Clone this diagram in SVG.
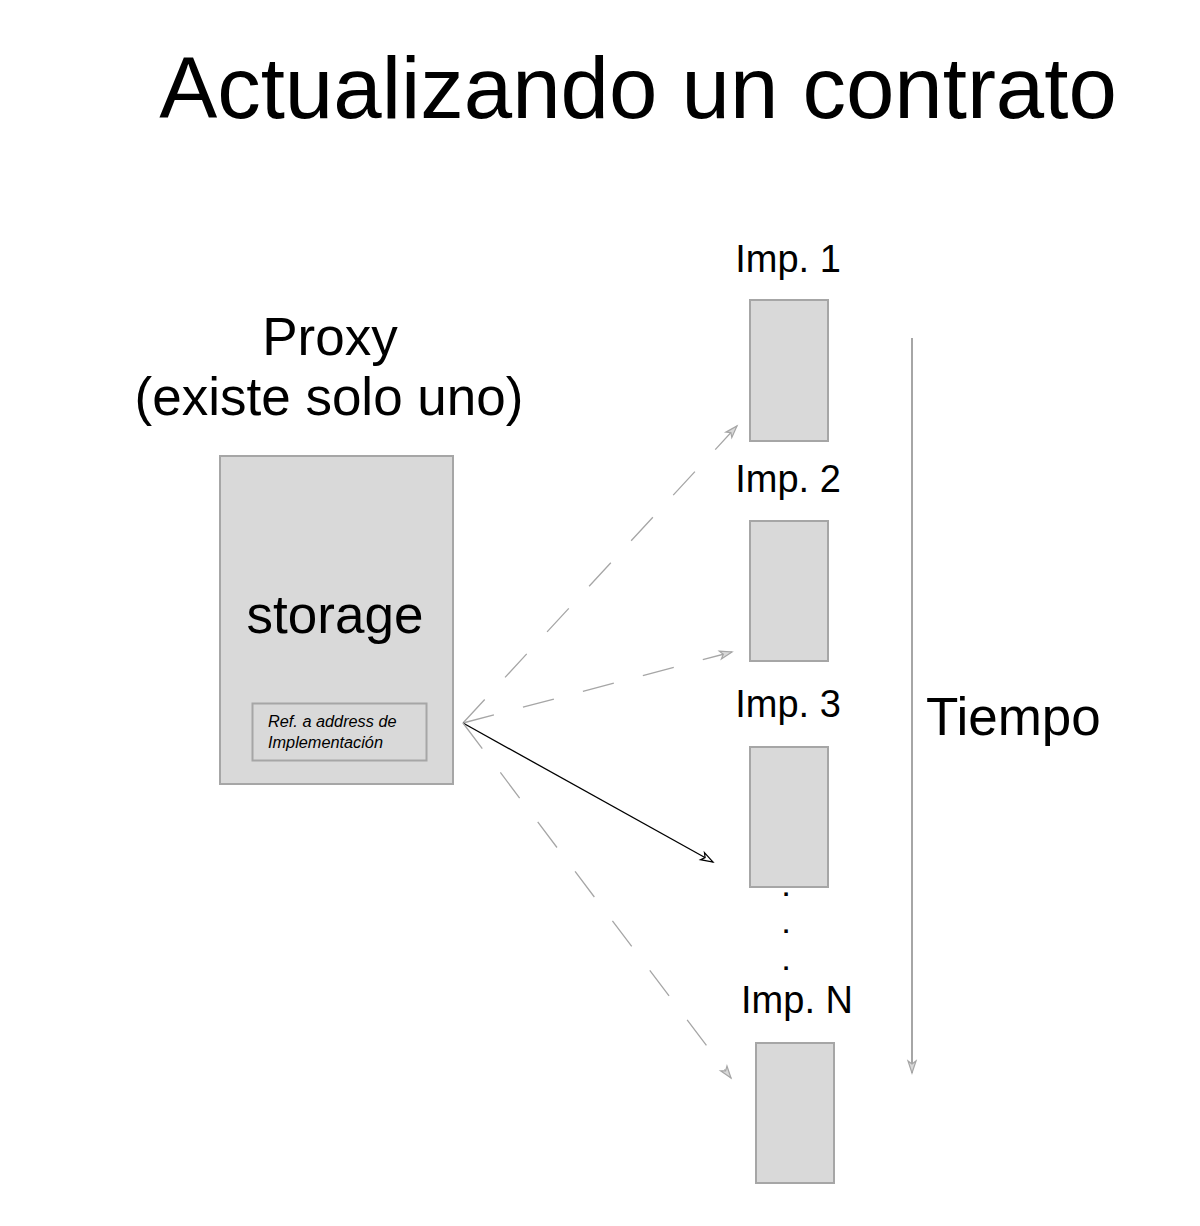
<svg xmlns="http://www.w3.org/2000/svg" width="1200" height="1226" viewBox="0 0 1200 1226">
<style>
text{font-family:"Liberation Sans",Arial,sans-serif;fill:#000}
.box{fill:#d9d9d9;stroke:#a6a6a6;stroke-width:2}
.dash{stroke:#a6a6a6;stroke-width:1.3;fill:none;stroke-dasharray:32 30}
.solid{stroke:#000;stroke-width:1.3;fill:none}
.lbl{font-size:38px;text-anchor:middle}
.dot{font-size:24px;font-weight:bold;text-anchor:middle}
</style>
<defs>
<marker id="ag" markerUnits="userSpaceOnUse" markerWidth="16" markerHeight="12" refX="13" refY="5" orient="auto" overflow="visible">
<path d="M1,1 L13,5 L1,9 L4,5 Z" fill="#d9d9d9" stroke="#a6a6a6" stroke-width="1.2"/>
</marker>
<marker id="ab" markerUnits="userSpaceOnUse" markerWidth="16" markerHeight="12" refX="13" refY="5" orient="auto" overflow="visible">
<path d="M1,1 L13,5 L1,9 L4,5 Z" fill="#fff" stroke="#000" stroke-width="1.2"/>
</marker>
</defs>
<rect width="1200" height="1226" fill="#fff"/>
<text x="638" y="118" font-size="87" text-anchor="middle">Actualizando un contrato</text>
<g id="proxy">
<text x="330" y="355" font-size="53" text-anchor="middle">Proxy</text>
<text x="329" y="415" font-size="53" text-anchor="middle">(existe solo uno)</text>
<rect class="box" x="220" y="456" width="233" height="328"/>
<text x="335" y="633" font-size="53" text-anchor="middle">storage</text>
</g>
<g id="ref">
<rect class="box" x="252.5" y="703.5" width="174" height="57" stroke-width="1.5"/>
<text x="268" y="727" font-size="16.3" font-style="italic">Ref. a address de</text>
<text x="268" y="748" font-size="16.3" font-style="italic">Implementación</text>
</g>
<g id="imp1">
<text class="lbl" x="788" y="272">Imp. 1</text>
<rect class="box" x="750" y="300" width="78" height="141"/>
</g>
<g id="imp2">
<text class="lbl" x="788" y="492">Imp. 2</text>
<rect class="box" x="750" y="521" width="78" height="140"/>
</g>
<g id="imp3">
<text class="lbl" x="788" y="717">Imp. 3</text>
<rect class="box" x="750" y="747" width="78" height="140"/>
</g>
<g id="dots">
<text class="dot" x="786" y="896">.</text>
<text class="dot" x="786" y="933">.</text>
<text class="dot" x="786" y="970">.</text>
</g>
<g id="impN">
<text class="lbl" x="797" y="1013">Imp. N</text>
<rect class="box" x="756" y="1043" width="78" height="140"/>
</g>
<g id="tiempo">
<text x="926" y="735" font-size="53">Tiempo</text>
</g>
<g id="connectors">
<line class="dash" x1="463" y1="723" x2="737" y2="426" marker-end="url(#ag)"/>
<line class="dash" x1="463" y1="723" x2="732" y2="652" marker-end="url(#ag)"/>
<line class="solid" x1="463" y1="723" x2="713" y2="862" marker-end="url(#ab)"/>
<line class="dash" x1="463" y1="723" x2="731" y2="1078" marker-end="url(#ag)"/>
<line stroke="#a6a6a6" stroke-width="2" x1="912" y1="338" x2="912" y2="1073" marker-end="url(#ag)"/>
</g>
</svg>
